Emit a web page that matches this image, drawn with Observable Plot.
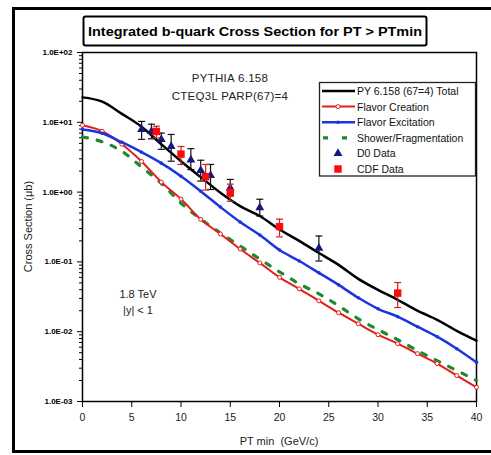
<!DOCTYPE html>
<html><head><meta charset="utf-8">
<script src="https://cdn.jsdelivr.net/npm/d3@7"></script>
<script src="https://cdn.jsdelivr.net/npm/@observablehq/plot@0.6"></script>
<style>
body{margin:0;background:#fff;}
svg{font-family:"Liberation Sans",Arial,sans-serif;}
</style></head><body><div id="chart"></div>
<script>
// ---- data ----
const pt = [0,2,4,6,8,10,12,14,16,18,20,22,24,26,28,30,32,34,36,38,40];
const total = [22.76,19.75,13.22,8.62,4.85,2.77,1.64,0.98,0.63,0.454,0.291,0.20,0.134,0.0906,0.0572,0.0398,0.0286,0.020,0.0148,0.0103,0.00744];
const flavorCreation = [9.06,7.44,4.85,2.75,1.39,0.794,0.407,0.251,0.153,0.0967,0.0601,0.0411,0.0277,0.0187,0.0130,0.00906,0.00674,0.00485,0.00349,0.00235,0.0016];
const flavorExcitation = [7.87,6.96,5.18,3.73,2.60,1.69,1.03,0.611,0.373,0.243,0.148,0.103,0.0697,0.0469,0.0306,0.0213,0.0164,0.0118,0.00848,0.00571,0.00364];
const showerFrag = [6.17,5.26,3.85,2.28,1.34,0.697,0.411,0.26,0.169,0.110,0.072,0.0485,0.0349,0.0235,0.0153,0.0107,0.00769,0.00535,0.00385,0.00277,0.0020];

const d0Pt  = [6,7,8,9,11,12,13,15,18,24];
const d0Val = [7.9,7.4,5.7,4.5,2.9,2.04,1.73,1.15,0.60,0.157];
const d0Lo  = [5.7,5.8,4.1,2.77,2.1,1.44,1.09,0.88,0.454,0.103];
const d0Hi  = [10.3,9.4,7.0,6.7,4.2,2.86,2.49,1.52,0.79,0.235];

const cdfPt  = [7.5,10,12.5,15,20,32];
const cdfVal = [7.4,3.5,1.66,0.98,0.32,0.0357];
const cdfLo  = [5.97,2.49,1.07,0.74,0.228,0.0222];
const cdfHi  = [8.8,4.5,2.49,1.30,0.41,0.0506];

const xTicks = [0,5,10,15,20,25,30,35,40];
const yTicks = [1e-3,1e-2,1e-1,1,10,100];
const yMinor = [];
for (const d of [1e-3,1e-2,1e-1,1,10]) for (let k = 2; k <= 9; k++) yMinor.push(+(d*k).toPrecision(3));

const legendLabels = ["PY 6.158 (67=4) Total","Flavor Creation","Flavor Excitation","Shower/Fragmentation","D0 Data","CDF Data"];
const titleText = "Integrated b-quark Cross Section for PT > PTmin";
const notes1 = ["PYTHIA 6.158","CTEQ3L PARP(67)=4"];
const notes2 = ["1.8 TeV","|y| < 1"];

// ---- colours ----
const cBlack = "#000", cRed = "#e41c1c", cBlue = "#1a35e0", cGreen = "#1f8a2c", cNavy = "#141a7a", cCdf = "#ff0a0a";

// ---- tables ----
const rows = pt.map((p,i)=>({pt:p,total:total[i],fc:flavorCreation[i],fe:flavorExcitation[i],sf:showerFrag[i]}));
const d0 = d0Pt.map((p,i)=>({pt:p,v:d0Val[i],lo:d0Lo[i],hi:d0Hi[i]}));
const cdf = cdfPt.map((p,i)=>({pt:p,v:cdfVal[i],lo:cdfLo[i],hi:cdfHi[i]}));

const fmtE = d => { const e = Math.round(Math.log10(d)); return "1.0E" + (e < 0 ? "-" : "+") + String(Math.abs(e)).padStart(2,"0"); };
const cap = {draw(ctx, size){ const w = Math.sqrt(size/Math.PI); ctx.moveTo(-w,0); ctx.lineTo(w,0); }};

const chart = Plot.plot({
  width: 491, height: 455,
  marginLeft: 82, marginRight: 15, marginTop: 52, marginBottom: 54,
  style: {background: "#fff", fontFamily: "Liberation Sans, Arial, sans-serif", overflow: "visible"},
  x: {domain: [0, 40]},
  y: {type: "log", domain: [1e-3, 1e2]},
  marks: [
    Plot.axisY({ticks: yMinor, tickSize: 3, tickFormat: () => "", label: null}),
    Plot.axisY({ticks: yTicks, tickSize: 5, tickPadding: 5, tickFormat: fmtE, fontSize: 8, fontWeight: "bold", label: null}),
    Plot.axisX({ticks: xTicks, tickSize: 6, tickPadding: 6, fontSize: 10.5, fill: "#222", label: null}),
    Plot.frame({stroke: "#000", strokeWidth: 1.5}),
    Plot.line(rows, {x: "pt", y: "sf", stroke: cGreen, strokeWidth: 3.2, strokeDasharray: "5,10", curve: "monotone-x"}),
    Plot.line(rows, {x: "pt", y: "fc", stroke: cRed, strokeWidth: 2, curve: "monotone-x"}),
    Plot.dot(rows, {x: "pt", y: "fc", r: 2, fill: "#fff", stroke: cRed, strokeWidth: 1}),
    Plot.line(rows, {x: "pt", y: "fe", stroke: cBlue, strokeWidth: 2.5, curve: "monotone-x"}),
    Plot.dot(rows, {x: "pt", y: "fe", r: 1.8, fill: cBlue}),
    Plot.line(rows, {x: "pt", y: "total", stroke: cBlack, strokeWidth: 2.5, curve: "monotone-x"}),
    // D0 data
    Plot.ruleX(d0, {x: "pt", y1: "lo", y2: "hi", stroke: "#111", strokeWidth: 1.2}),
    Plot.dot(d0, {x: "pt", y: "lo", symbol: cap, r: 3.5, stroke: "#111", strokeWidth: 1.2}),
    Plot.dot(d0, {x: "pt", y: "hi", symbol: cap, r: 3.5, stroke: "#111", strokeWidth: 1.2}),
    Plot.dot(d0, {x: "pt", y: "v", symbol: "triangle", r: 3.3, fill: cNavy}),
    // CDF data
    Plot.ruleX(cdf, {x: "pt", y1: "lo", y2: "hi", stroke: "#c02626", strokeWidth: 1.2}),
    Plot.dot(cdf, {x: "pt", y: "lo", symbol: cap, r: 3.5, stroke: "#c02626", strokeWidth: 1.2}),
    Plot.dot(cdf, {x: "pt", y: "hi", symbol: cap, r: 3.5, stroke: "#c02626", strokeWidth: 1.2}),
    Plot.dot(cdf, {x: "pt", y: "v", symbol: "square", r: 4.2, fill: cCdf})
  ]
});
document.getElementById("chart").appendChild(chart);

// ---- decorations ----
const svg = d3.select(chart);
svg.append("rect").attr("x", 13.5).attr("y", 8.5).attr("width", 500).attr("height", 443)
  .attr("fill", "none").attr("stroke", "#000").attr("stroke-width", 3);

// title box
svg.append("rect").attr("x", 83.5).attr("y", 16.5).attr("width", 343).attr("height", 29).attr("rx", 2)
  .attr("fill", "#fff").attr("stroke", "#000").attr("stroke-width", 2);
svg.append("text").attr("x", 255).attr("y", 31).attr("text-anchor", "middle").attr("dominant-baseline", "central")
  .attr("font-size", 13).attr("font-weight", "bold").attr("textLength", 334).attr("lengthAdjust", "spacingAndGlyphs")
  .text(titleText);

// axis labels
svg.append("text").attr("transform", "translate(28,226.5) rotate(-90)").attr("text-anchor", "middle")
  .attr("dominant-baseline", "central").attr("font-size", 11).attr("fill", "#222").text("Cross Section (μb)");
svg.append("text").attr("x", 279).attr("y", 441).attr("text-anchor", "middle").attr("dominant-baseline", "central")
  .attr("font-size", 11).attr("fill", "#222").style("white-space", "pre").text("PT min  (GeV/c)");

// notes
notes1.forEach((t, i) => svg.append("text").attr("x", 230).attr("y", 78 + i * 18).attr("text-anchor", "middle")
  .attr("dominant-baseline", "central").attr("font-size", 11.5).attr("letter-spacing", 0.3).attr("fill", "#222").text(t));
notes2.forEach((t, i) => svg.append("text").attr("x", 138).attr("y", 294 + i * 16).attr("text-anchor", "middle")
  .attr("dominant-baseline", "central").attr("font-size", 11).attr("fill", "#222").text(t));

// legend
const lg = svg.append("g");
lg.append("rect").attr("x", 319.5).attr("y", 82.5).attr("width", 156).attr("height", 93.5)
  .attr("fill", "#fff").attr("stroke", "#222").attr("stroke-width", 1.3);
const ly = i => 91 + i * 15.6;
legendLabels.forEach((t, i) => {
  lg.append("text").attr("x", 357).attr("y", ly(i)).attr("text-anchor", "start").attr("dominant-baseline", "central")
    .attr("font-size", 10.5).attr("fill", "#111").text(t);
});
lg.append("line").attr("x1", 322).attr("x2", 355).attr("y1", ly(0)).attr("y2", ly(0)).attr("stroke", cBlack).attr("stroke-width", 2.5);
lg.append("line").attr("x1", 322).attr("x2", 355).attr("y1", ly(1)).attr("y2", ly(1)).attr("stroke", cRed).attr("stroke-width", 2);
lg.append("circle").attr("cx", 338).attr("cy", ly(1)).attr("r", 2).attr("fill", "#fff").attr("stroke", cRed);
lg.append("line").attr("x1", 322).attr("x2", 355).attr("y1", ly(2)).attr("y2", ly(2)).attr("stroke", cBlue).attr("stroke-width", 2.5);
lg.append("circle").attr("cx", 338).attr("cy", ly(2)).attr("r", 1.8).attr("fill", cBlue);
lg.append("line").attr("x1", 323).attr("x2", 349).attr("y1", ly(3)).attr("y2", ly(3)).attr("stroke", cGreen)
  .attr("stroke-width", 3.2).attr("stroke-dasharray", "5,14");
lg.append("path").attr("d", d3.symbol(d3.symbolTriangle, Math.PI * 3.3 * 3.3)()).attr("transform", `translate(338,${ly(4)})`).attr("fill", cNavy);
lg.append("path").attr("d", d3.symbol(d3.symbolSquare, Math.PI * 4.2 * 4.2)()).attr("transform", `translate(338,${ly(5)})`).attr("fill", cCdf);
</script></body></html>
